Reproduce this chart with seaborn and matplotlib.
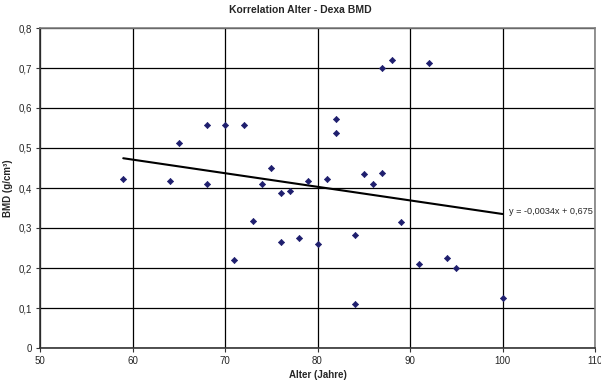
import matplotlib
matplotlib.use("Agg")
import matplotlib.pyplot as plt
import seaborn as sns
import pandas as pd
from matplotlib.ticker import FuncFormatter, MultipleLocator

alter = [59, 64, 65, 68, 68, 70, 71, 72, 73, 74, 75, 76, 76, 77, 78, 79, 80,
         81, 82, 82, 84, 84, 85, 86, 87, 87, 88, 89, 91, 92, 94, 95, 100]
bmd = [0.422, 0.417, 0.513, 0.558, 0.409, 0.558, 0.220, 0.557, 0.318, 0.409,
       0.450, 0.387, 0.266, 0.392, 0.274, 0.417, 0.260, 0.422, 0.572, 0.537,
       0.282, 0.111, 0.434, 0.409, 0.437, 0.700, 0.719, 0.315, 0.209, 0.713,
       0.224, 0.200, 0.124]
trend_x = [59, 100]
trend_y = [0.4744, 0.335]
equation = "y = -0,0034x + 0,675"

df = pd.DataFrame({"Alter": alter, "BMD": bmd})

sns.set_theme(style="white")
plt.rcParams["font.family"] = ["Liberation Sans", "DejaVu Sans"]

fig = plt.figure(figsize=(6.01, 3.83), dpi=100)
ax = fig.add_axes([40 / 601, 1 - 348 / 383, 555 / 601, 320 / 383])

sns.scatterplot(data=df, x="Alter", y="BMD", ax=ax, marker="D", s=10,
                color="#1f1f6e", edgecolor="#1f1f6e", linewidth=0.5, zorder=3)
sns.lineplot(x=trend_x, y=trend_y, ax=ax, color="black", linewidth=1.5, zorder=2)

ax.text(100.75, trend_y[1] + 0.006, equation, fontsize=6.6, va="center", ha="left")

ax.set_xlim(50, 110)
ax.set_ylim(0, 0.8)
ax.xaxis.set_major_locator(MultipleLocator(10))
ax.yaxis.set_major_locator(MultipleLocator(0.1))
ax.yaxis.set_major_formatter(FuncFormatter(lambda v, p: "0" if abs(v) < 1e-9 else f"{v:.1f}".replace(".", ",")))
ax.xaxis.set_major_formatter(FuncFormatter(lambda v, p: f"{v:.0f}"))
ax.grid(True, color="black", linewidth=0.9)
ax.set_axisbelow(True)

for side in ["left", "bottom"]:
    ax.spines[side].set_color("#333333")
    ax.spines[side].set_linewidth(1.2)
for side in ["top", "right"]:
    ax.spines[side].set_color("#808080")
    ax.spines[side].set_linewidth(1.2)

ax.tick_params(axis="both", which="major", labelsize=7, length=3, width=0.8,
               color="#333333", direction="out", bottom=True, left=True, pad=3)

ax.set_xlabel("Alter (Jahre)", fontsize=7, fontweight="bold", labelpad=3)
ax.set_ylabel("BMD (g/cm³)", fontsize=7, fontweight="bold", labelpad=4)
fig.text(0.5, 1 - 10 / 383, "Korrelation Alter - Dexa BMD", fontsize=7.5,
         fontweight="bold", ha="center", va="center")

fig.savefig("out.png", dpi=100)
